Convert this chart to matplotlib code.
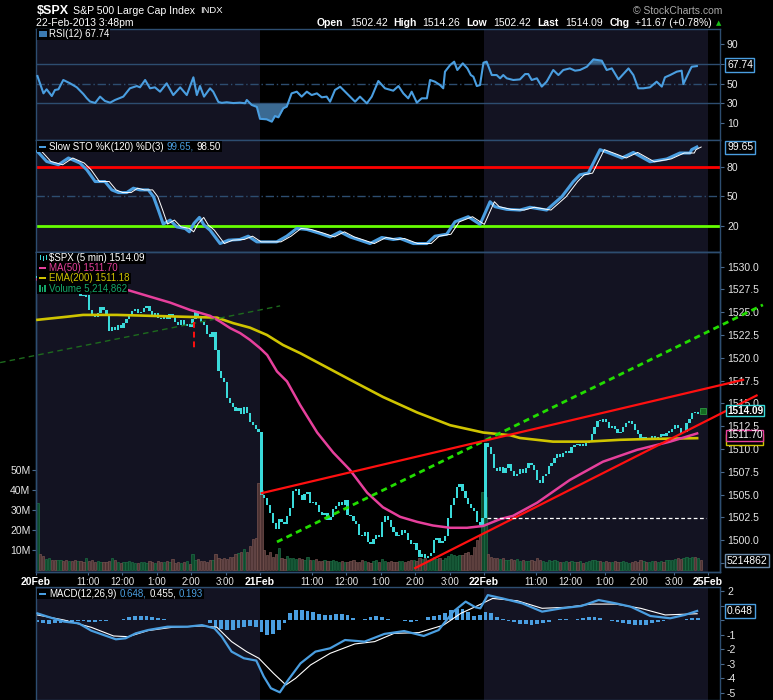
import numpy as np
import matplotlib
matplotlib.use("Agg")
import matplotlib.pyplot as plt
from matplotlib.patches import Rectangle

FONT = ["Liberation Sans", "DejaVu Sans"]
plt.rcParams["font.family"] = FONT

# ------------------------------------------------------------------ data
days = ["20Feb", "21Feb", "22Feb", "25Feb"]
bars_per_day = 78
hour_labels = ["11:00", "12:00", "1:00", "2:00", "3:00"]
hour_offsets = [18, 30, 42, 54, 66]          # bars after 9:30 open

close_20feb = [1528.8, 1528.2, 1527.8, 1528.1, 1528.4, 1528.0, 1527.8, 1528.3, 1528.6, 1528.4,
               1528.0, 1528.2, 1527.9, 1527.7, 1527.7, 1526.8, 1526.7, 1526.9, 1525.2, 1524.8,
               1524.5, 1524.9, 1525.6, 1525.2, 1524.6, 1522.9, 1523.4, 1523.0, 1523.6, 1523.3,
               1523.8, 1524.3, 1524.7, 1525.1, 1525.3, 1524.9, 1525.0, 1525.5, 1525.7, 1525.1,
               1524.6, 1524.9, 1524.4, 1524.2, 1524.6, 1524.3, 1524.8, 1524.6, 1523.9, 1523.6,
               1524.1, 1523.5, 1523.7, 1523.4, 1524.2, 1525.1, 1524.6, 1523.9, 1523.6, 1522.6,
               1522.3, 1522.8, 1520.8, 1518.6, 1517.8, 1517.3, 1515.6, 1515.0, 1514.6, 1514.2,
               1514.5, 1513.8, 1514.6, 1513.9, 1512.9, 1512.6, 1512.2, 1511.9]
close_21feb = [1505.0, 1504.6, 1503.8, 1503.0, 1501.9, 1501.2, 1502.3, 1502.0, 1501.8, 1502.6,
               1503.5, 1505.4, 1505.6, 1505.0, 1504.4, 1505.1, 1505.3, 1504.1, 1504.2, 1503.9,
               1503.1, 1502.8, 1503.0, 1502.2, 1502.5, 1503.4, 1503.7, 1504.2, 1503.9, 1504.4,
               1502.8, 1502.6, 1502.1, 1501.8, 1500.6, 1500.4, 1500.9, 1499.8, 1499.6, 1500.1,
               1500.6, 1500.3, 1502.0, 1502.6, 1502.2, 1501.4, 1500.9, 1500.4, 1500.6, 1501.1,
               1500.8, 1500.0, 1499.6, 1499.7, 1498.9, 1498.2, 1498.5, 1498.0, 1498.3, 1498.6,
               1500.0, 1500.2, 1499.7, 1499.9, 1500.4, 1502.4, 1503.8, 1504.6, 1505.8, 1506.1,
               1505.4, 1504.6, 1504.0, 1503.5, 1503.2, 1502.0, 1501.7, 1502.42]
close_22feb = [1510.6, 1510.2, 1509.4, 1507.9, 1507.6, 1508.0, 1507.4, 1507.9, 1508.3, 1507.6,
               1507.0, 1507.3, 1507.8, 1507.4, 1507.9, 1508.5, 1508.2, 1507.7, 1506.6, 1506.3,
               1507.0, 1507.2, 1508.1, 1508.5, 1509.0, 1509.4, 1509.1, 1509.5, 1509.8, 1509.6,
               1510.2, 1510.4, 1510.3, 1510.5, 1510.3, 1510.6, 1510.9, 1511.6, 1512.4, 1513.1,
               1513.0, 1513.3, 1512.9, 1512.3, 1512.5, 1512.2, 1511.7, 1511.9, 1512.4, 1512.8,
               1513.1, 1512.7, 1512.1, 1511.6, 1511.2, 1511.3, 1511.0, 1511.2, 1511.4, 1511.1,
               1511.3, 1511.6, 1511.4, 1511.8, 1511.9, 1512.2, 1512.6, 1512.3, 1511.7, 1511.9,
               1512.8, 1513.3, 1513.9, 1513.8, 1514.1, 1514.09]

vol_20feb = [33.3, 8.0, 7.0, 5.3, 5.8, 5.0, 5.1, 4.8, 5.0, 4.6,
             5.2, 4.5, 4.3, 4.8, 4.4, 4.6, 4.0, 5.8, 4.4, 5.2,
             4.0, 4.6, 3.8, 4.1, 3.9, 4.6, 6.2, 4.8, 4.2, 3.6,
             3.8, 4.0, 4.5, 4.2, 3.7, 3.6, 4.0, 3.9, 3.5, 4.3,
             3.8, 3.6, 4.6, 4.2, 3.8, 4.3, 3.9, 5.3, 3.7, 4.1,
             3.4, 3.9, 4.3, 3.2, 8.0, 4.8, 5.3, 4.4, 4.6, 4.1,
             4.8, 5.2, 7.8, 6.1, 5.4, 6.2, 5.5, 6.4, 6.7, 8.0,
             8.5, 9.0, 10.5, 9.2, 12.0, 15.3, 15.8, 43.3]
vol_21feb = [40.0, 10.0, 7.5, 9.0, 6.3, 8.0, 11.0, 6.0, 5.5, 6.8,
             5.8, 6.2, 5.5, 6.0, 5.4, 4.8, 6.6, 5.1, 4.9, 5.3,
             4.6, 4.4, 5.0, 4.7, 4.5, 5.2, 4.3, 3.9, 4.4, 4.2,
             4.0, 4.6, 4.8, 3.8, 4.1, 5.0, 4.5, 4.0, 3.7, 4.3,
             4.8, 4.2, 5.5, 4.6, 4.0, 4.4, 3.9, 4.1, 4.6, 4.3,
             4.0, 4.4, 5.2, 5.0, 4.6, 6.0, 5.4, 5.8, 4.9, 5.2,
             6.5, 5.5, 6.0, 5.0, 6.2, 7.0, 8.2, 7.5, 6.8, 7.7,
             7.5, 8.5, 9.2, 7.5, 11.7, 15.0, 17.5, 39.0]
vol_22feb = [36.7, 8.0, 6.7, 5.8, 6.2, 5.5, 6.0, 4.8, 5.2, 5.6,
             4.9, 5.4, 4.5, 5.0, 4.7, 4.4, 5.2, 4.6, 5.8, 5.0,
             4.6, 4.2, 4.8, 4.4, 5.0, 4.5, 3.9, 4.2, 4.6, 4.0,
             4.3, 3.8, 4.1, 4.4, 3.7, 4.0, 4.5, 4.8, 5.2, 4.6,
             4.3, 4.0, 4.4, 3.9, 4.2, 4.6, 3.8, 4.1, 4.4, 4.0,
             3.7, 4.2, 4.5, 4.0, 4.8, 4.4, 4.1, 3.9, 4.3, 4.6,
             4.2, 4.5, 4.0, 4.8, 5.2, 5.0, 5.6, 5.8, 5.4, 6.0,
             6.3, 5.8, 6.5, 6.7, 6.1, 5.2]

ma50_bar = [0, 15, 31.2, 39.2, 46.2, 53.1, 60.1, 63.6, 67.1, 70.6, 74.0, 77.5, 80.0, 83.4,
            86.9, 91.5, 97.4, 103.0, 108.8, 114.8, 120.3, 126.3, 132.2, 137.7, 143.7, 149.6,
            155.2, 161.1, 165.6, 174.0, 185.4, 196.9, 208.8, 220.3, 229.7]
ma50_val = [1528.6, 1528.2, 1527.45, 1526.7, 1526.05, 1525.25, 1524.6, 1523.97, 1523.25, 1522.7,
            1521.96, 1521.05, 1520.3, 1518.5, 1517.4, 1514.8, 1511.8, 1509.6, 1507.7, 1505.2,
            1503.6, 1502.55, 1502.0, 1501.6, 1501.35, 1501.35, 1501.55, 1502.3, 1502.66, 1504.1,
            1506.6, 1508.6, 1509.9, 1510.8, 1511.70]
ema200_bar = [0, 10.3, 15.9, 27.7, 39.2, 50.7, 62.5, 68.1, 74.0, 79.9, 85.5, 91.5, 108.8,
              120.3, 132.2, 143.7, 155.2, 164.6, 168.0, 179.5, 191.4, 202.9, 214.4, 229.7]
ema200_val = [1524.16, 1524.5, 1524.7, 1524.7, 1524.6, 1524.5, 1524.4, 1523.8, 1523.3, 1522.5,
              1521.4, 1520.5, 1517.6, 1515.7, 1514.0, 1512.6, 1511.8, 1511.5, 1511.2, 1510.8,
              1510.8, 1511.0, 1511.1, 1511.18]

rsi_bar = [0, 2.1, 3.2, 5.0, 6.1, 7.3, 9.0, 11.4, 13.7, 16.0,
           17.2, 18.3, 20.1, 21.8, 23.5, 25.3, 27.0, 29.9, 32.2, 34.6,
           35.7, 37.5, 39.2, 40.9, 42.7, 45.0, 47.3, 49.7, 52.0, 54.3,
           55.5, 56.6, 58.0, 60.1, 61.2, 63.0, 64.2, 65.9, 68.2, 70.5,
           72.3, 72.9, 74.6, 76.4, 77.5, 79.8, 81.6, 82.7, 83.9, 85.6,
           86.8, 88.5, 90.3, 92.0, 93.8, 95.5, 97.3, 99.0, 100.7, 101.9,
           103.6, 105.4, 107.7, 108.8, 110.6, 112.3, 114.7, 116.4, 118.7, 121.0,
           123.9, 125.7, 127.4, 129.1, 130.3, 132.1, 133.8, 135.6, 136.7, 138.4,
           140.2, 141.3, 141.9, 143.7, 145.1, 146.2, 148.1, 149.7, 150.9, 151.8,
           153.0, 154.1, 155.3, 156.4, 158.2, 159.9, 161.1, 162.2, 163.4, 165.7,
           168.0, 169.8, 170.9, 172.1, 173.9, 175.6, 177.3, 179.6, 181.4, 183.1,
           185.4, 187.2, 188.9, 191.3, 193.6, 196.5, 198.2, 200.0, 202.3, 204.0,
           205.8, 207.5, 209.2, 211.0, 213.3, 215.6, 217.4, 218.5, 220.3, 222.6,
           224.3, 224.9, 227.2, 227.8, 229.6]
rsi_val = [57.7, 40.2, 44.3, 37.5, 43.6, 44.3, 53.7, 50.3, 46.3, 39.5,
           35.2, 32.0, 30.5, 36.9, 32.5, 30.8, 33.5, 36.9, 45.3, 47.6,
           46.3, 53.7, 45.3, 46.3, 41.9, 50.3, 38.5, 46.3, 38.5, 56.4,
           38.5, 47.6, 36.9, 45.3, 41.9, 31.5, 30.6, 31.2, 30.4, 30.8,
           30.2, 33.5, 28.5, 26.5, 14.5, 14.0, 11.6, 17.3, 16.0, 25.1,
           26.8, 40.2, 41.9, 36.9, 41.9, 38.5, 40.2, 36.2, 36.9, 31.8,
           43.6, 46.9, 40.2, 36.9, 31.8, 36.9, 30.1, 36.9, 52.7, 45.3,
           42.9, 47.6, 40.2, 35.2, 41.9, 30.8, 35.2, 35.2, 53.7, 52.0,
           48.6, 45.3, 62.1, 68.8, 72.2, 63.8, 70.5, 65.4, 58.7, 57.0,
           47.6, 48.6, 71.2, 72.2, 58.7, 58.7, 55.4, 58.7, 55.4, 53.7,
           54.3, 59.7, 59.7, 53.7, 55.4, 47.0, 52.0, 63.8, 58.7, 63.8,
           65.4, 63.1, 63.8, 67.1, 74.5, 73.2, 63.8, 65.4, 54.3, 59.7,
           65.4, 58.7, 45.3, 45.3, 46.3, 52.0, 47.0, 56.4, 58.7, 62.1,
           63.1, 49.6, 63.8, 67.1, 67.74]

sto_bar = [0, 3.2, 7.3, 10.8, 14.8, 17.2, 20.1, 23.5, 25.9, 28.2,
           31.1, 33.4, 35.7, 38.6, 40.4, 42.1, 43.8, 46.2, 48.5, 51.4,
           52.9, 54.5, 56.4, 58.0, 60.1, 63.6, 66.5, 70.5, 73.4, 76.4,
           83.3, 86.8, 90.3, 93.8, 98.4, 101.9, 105.4, 108.8, 112.3, 115.8,
           119.9, 123.9, 126.3, 130.9, 135.6, 138.4, 142.5, 145.4, 150.0, 154.1,
           157.6, 159.3, 163.4, 168.0, 171.5, 177.3, 182.6, 186.6, 188.9, 191.8,
           195.9, 200.0, 203.5, 207.5, 213.3, 219.1, 223.7, 227.2, 227.8, 229.6]
sto_val = [95.2, 85.1, 81.8, 88.6, 83.5, 76.7, 64.9, 64.9, 56.5, 53.8,
           53.8, 58.2, 56.5, 56.5, 49.7, 36.2, 22.1, 26.1, 19.3, 17.7,
           14.3, 22.8, 28.8, 21.1, 16.0, 2.5, 5.9, 6.6, 9.9, 4.2,
           4.2, 9.9, 17.7, 16.7, 12.7, 9.2, 14.3, 9.2, 5.9, 2.5,
           8.6, 6.6, 7.6, 2.5, 2.5, 9.9, 11.9, 24.4, 29.5, 21.8,
           44.6, 39.6, 36.9, 36.2, 39.0, 36.2, 49.7, 64.9, 71.7, 73.4,
           97.0, 92.6, 88.6, 94.2, 84.8, 87.6, 93.6, 93.6, 97.0, 99.65]

macd_bar = [0, 4.2, 9.3, 14.4, 18.7, 23.0, 27.3, 30.7, 34.2, 38.5,
            45.3, 52.2, 57.3, 61.6, 64.2, 67.6, 71.9, 76.2, 78.8, 81.3,
            84.4, 87.3, 91.6, 96.8, 101.9, 107.1, 113.9, 120.8, 127.7, 134.5,
            139.7, 144.8, 149.1, 152.5, 154.2, 156.8, 162.0, 168.8, 175.7, 182.5,
            189.4, 195.4, 201.4, 206.6, 213.4, 220.3, 225.4, 229.7]
macd_val = [0.48, 0.21, -0.09, -0.21, -0.71, -1.01, -1.31, -1.24, -0.90, -0.67,
            -0.44, -0.44, -0.33, -0.55, -1.13, -2.16, -2.62, -2.78, -3.88, -4.69,
            -4.97, -4.12, -2.97, -2.16, -1.93, -1.36, -1.47, -0.94, -0.74, -1.08,
            -0.67, 0.60, 1.29, 0.90, 0.83, 1.74, 1.51, 1.17, 0.60, 0.83,
            0.99, 1.40, 1.17, 0.94, 0.30, 0.14, 0.37, 0.648]
signal_bar = [0, 9.3, 18.7, 26.5, 31.6, 38.5, 47.0, 57.3, 62.5, 67.6,
              72.8, 77.1, 82.2, 86.5, 89.9, 95.1, 101.9, 110.5, 117.4, 124.2,
              132.8, 141.4, 147.4, 152.5, 158.5, 167.1, 175.7, 184.3, 192.8, 201.4,
              210.0, 218.6, 229.7]
signal_val = [0.37, 0.02, -0.48, -1.08, -1.13, -0.71, -0.48, -0.39, -0.48, -1.47,
              -2.16, -2.62, -3.66, -4.46, -4.00, -3.08, -2.28, -1.63, -1.47, -0.90,
              -0.85, -0.33, 0.48, 0.94, 1.51, 1.35, 0.83, 0.90, 1.12, 1.12,
              0.83, 0.37, 0.455]
hist_step = 2
hist_val = [-0.15, -0.2, -0.22, -0.2, -0.18, -0.15,
            -0.1, -0.08, -0.05, -0.1, -0.12, -0.08, -0.05, 0.0, 0.05,
            0.12, 0.2, 0.28, 0.32, 0.3, 0.22, 0.15,
            0.08, 0.05, 0.02, 0.03, 0.05, 0.04, 0.02, 0.0,
            -0.2, -0.45, -0.6, -0.7, -0.65, -0.55, -0.45, -0.4, -0.45,
            -0.8, -1.0, -0.95, -0.7, -0.2,
            0.5, 0.7, 0.72, 0.65, 0.55,
            0.45, 0.4, 0.38, 0.42, 0.45, 0.35, 0.15,
            0.05, 0.1, 0.25, 0.32, 0.2, 0.08,
            0.05, 0.02, -0.05, -0.1, -0.05, 0.05,
            0.2, 0.28, 0.35, 0.5, 0.7, 0.8, 0.75, 0.55,
            0.3, 0.35, 0.6, 0.5, 0.25, 0.1,
            -0.05, -0.15, -0.22, -0.28, -0.3, -0.25, -0.2, -0.1,
            0.02, 0.06, 0.08, 0.05, 0.1, 0.15, 0.2, 0.2, 0.15,
            0.05, -0.05, -0.12, -0.2, -0.28, -0.32, -0.35, -0.3, -0.2,
            -0.1, -0.02, 0.02, 0.05, 0.04, 0.08, 0.15, 0.19]

# drawn annotations: (bar position, price) end points
trend_dark_green = ([-12.5, 85.0], [1519.47, 1525.69])
trend_green = ([83.9, 253.1], [1499.8, 1525.8])
trend_red_upper = ([78.6, 246.2], [1505.15, 1517.58])
trend_red_lower = ([132.0, 250.9], [1496.93, 1515.86])
prev_close_line = ([156.9, 233.3], 1502.42)
red_marker_line = (55.1, [1523.9, 1521.1])

quote = dict(Open=1502.42, High=1514.26, Low=1502.42, Last=1514.09)
chg, chg_pct = 11.67, 0.78
rsi_last, sto_k_last, sto_d_last = 67.74, 99.65, 98.50
ma50_last, ema200_last, vol_last = 1511.70, 1511.18, 5214862
macd_last, signal_last, hist_last = 0.648, 0.455, 0.193

price_ticks = [1497.5, 1500.0, 1502.5, 1505.0, 1507.5, 1510.0, 1512.5, 1515.0,
               1517.5, 1520.0, 1522.5, 1525.0, 1527.5, 1530.0]
price_hidden = [1497.5]            # labels covered by the value boxes
vol_ticks = [10, 20, 30, 40, 50]
rsi_ticks = [10, 30, 50, 70, 90]
rsi_hidden = [70]
sto_ticks = [20, 50, 80]
macd_ticks = [-5, -4, -3, -2, -1, 0, 1, 2]
macd_hidden = [0, 1]

# ------------------------------------------------------------------ style
W, H = 773, 700
PL, PR = 36, 720
BAR_PX = 2.872
XMAX = (PR - PL) / BAR_PX
CYAN = "#3adada"; PINK = "#e6409c"; YELLOW = "#cfc400"; BLUE = "#4a9ee0"
SPINE = "#2d4d70"; SHADE = "#131322"; TICKC = "#4a6a8c"; LABELC = "#e6e6e6"

fig = plt.figure(figsize=(W / 100, H / 100), dpi=100, facecolor="black")
renderer = fig.canvas.get_renderer()

shade_spans = [(0, bars_per_day), (2 * bars_per_day, 3 * bars_per_day)]


def add_panel(top, bot):
    ax = fig.add_axes([PL / W, 1 - bot / H, (PR - PL) / W, (bot - top) / H])
    ax.set_facecolor("black")
    ax.set_xlim(0, XMAX)
    for s in ax.spines.values():
        s.set_color(SPINE)
        s.set_linewidth(1.0)
    ax.tick_params(axis="x", which="both", bottom=False, top=False, labelbottom=False)
    ax.yaxis.tick_right()
    ax.tick_params(axis="y", colors=TICKC, labelcolor=LABELC, labelsize=7.5,
                   length=3, width=0.8, pad=2)
    for a, b in shade_spans:
        ax.axvspan(a, b, color=SHADE, zorder=0, lw=0)
    return ax


def set_ticks(ax, ticks, hidden, fmt):
    ax.set_yticks(ticks)
    ax.set_yticklabels(["" if t in hidden else fmt.format(t) for t in ticks])


def bx(v):
    return np.asarray(v, dtype=float) + 0.5


# ---------------- RSI
ax_rsi = add_panel(28.7, 140)
ax_rsi.set_ylim(-6.9, 105.5)
set_ticks(ax_rsi, rsi_ticks, rsi_hidden, "{}")
for lv in (70, 30):
    ax_rsi.axhline(lv, color=SPINE, lw=1.0, zorder=1)
ax_rsi.axhline(50, color=SPINE, lw=1.0, ls=(0, (6, 2, 1, 2)), zorder=1)
rx, rv = bx(rsi_bar), np.array(rsi_val)
ax_rsi.fill_between(rx, rv, 70, where=rv >= 70, interpolate=True, color="#3b6a92", lw=0, zorder=2)
ax_rsi.fill_between(rx, rv, 30, where=rv <= 30, interpolate=True, color="#3b6a92", lw=0, zorder=2)
ax_rsi.plot(rx, rv, color=BLUE, lw=1.5, zorder=3)

# ---------------- Slow STO
ax_sto = add_panel(140, 252)
ax_sto.set_ylim(-6.0, 106.7)
ax_sto.set_yticks(sto_ticks)
ax_sto.axhline(80, color="#ff0000", lw=2.0, zorder=1)
ax_sto.axhline(20, color="#66ff00", lw=2.0, zorder=1)
ax_sto.axhline(50, color=SPINE, lw=1.0, ls=(0, (6, 2, 1, 2)), zorder=1)
sx = bx(sto_bar)
ax_sto.plot(sx, sto_val, color=BLUE, lw=2.2, zorder=3)
ax_sto.plot(sx + 1.5, sto_val, color="white", lw=0.7, zorder=4)

# ---------------- price + volume
ax_vol = add_panel(252, 572)
ax_px = ax_vol.twinx()
ax_px.set_xlim(0, XMAX)
ax_px.patch.set_visible(False)
for s in ax_px.spines.values():
    s.set_color(SPINE)
    s.set_linewidth(1.0)

closes = np.array(close_20feb + close_21feb + close_22feb)
vols = np.array(vol_20feb + vol_21feb + vol_22feb)
n = len(closes)
xb = np.arange(n) + 0.5
opens = np.concatenate([[closes[0]], closes[:-1]])
up = closes >= opens

ax_vol.set_ylim(-1, 159)
ax_vol.bar(xb[up], vols[up], width=0.8, color="#0f4a2c", edgecolor="#1d6e45", lw=0.5, zorder=2)
ax_vol.bar(xb[~up], vols[~up], width=0.8, color="#4e3434", edgecolor="#76524f", lw=0.5, zorder=2)
ax_vol.yaxis.tick_left()
ax_vol.set_yticks(vol_ticks)
ax_vol.set_yticklabels([f"{v}M" for v in vol_ticks])
ax_vol.tick_params(axis="y", left=True, right=False, labelleft=True, labelright=False,
                   colors=TICKC, labelcolor=LABELC, labelsize=7.5, length=3, pad=1)

# x axis labels
tick_pos, tick_lab = [], []
for d in range(3):
    tick_pos.append(d * bars_per_day); tick_lab.append(days[d])
    for off, lab in zip(hour_offsets, hour_labels):
        tick_pos.append(d * bars_per_day + off); tick_lab.append(lab)
tick_pos.append(3 * bars_per_day); tick_lab.append(days[3])
ax_vol.set_xticks(tick_pos)
ax_vol.set_xticklabels(tick_lab)
ax_vol.tick_params(axis="x", bottom=True, labelbottom=True, length=2, color=TICKC,
                   labelcolor=LABELC, labelsize=7, pad=1.5)
for lab in ax_vol.get_xticklabels():
    if "Feb" in lab.get_text():
        lab.set_fontweight("bold")
        lab.set_fontsize(7.5)
        lab.set_color("white")

ax_px.set_ylim(1496.5, 1531.6)
set_ticks(ax_px, price_ticks, price_hidden, "{:.1f}")
ax_px.tick_params(axis="y", colors=TICKC, labelcolor=LABELC, labelsize=7.5, length=3, width=0.8, pad=2)

hgt = closes - opens
hgt = np.where(np.abs(hgt) < 0.12, 0.12, hgt)
ax_px.bar(xb, hgt, bottom=opens, width=0.8, color=CYAN, lw=0, zorder=3)
ax_px.plot(bx(ema200_bar), ema200_val, color=YELLOW, lw=1.9, zorder=4)
ax_px.plot(bx(ma50_bar), ma50_val, color=PINK, lw=1.8, zorder=4)
ax_px.plot(xb[-1] + 0.6, closes[-1] + 0.1, marker="s", ms=4.5, mfc="#156a22", mec="#2c9a40", mew=0.6, zorder=6)

ax_px.plot(*trend_dark_green, color="#1d6a1d", lw=1.0, ls=(0, (4, 3)), zorder=5, clip_on=False)
ax_px.plot(*trend_green, color="#22dd00", lw=2.0, ls=(0, (2.2, 1.6)), zorder=5, clip_on=False)
ax_px.plot(*trend_red_upper, color="#ff1010", lw=1.6, zorder=5, clip_on=False)
ax_px.plot(*trend_red_lower, color="#ff1010", lw=1.6, zorder=5, clip_on=False)
ax_px.plot(prev_close_line[0], [prev_close_line[1]] * 2, color="white", lw=0.9, ls=(0, (3, 2)), zorder=5)
ax_px.plot([red_marker_line[0]] * 2, red_marker_line[1], color="#ff1010", lw=1.4, ls=(0, (3, 2)), zorder=5)

# ---------------- MACD
ax_macd = add_panel(587, 700)
ax_macd.set_ylim(-5.5, 2.3)
set_ticks(ax_macd, macd_ticks, macd_hidden, "{}")
hx = np.arange(len(hist_val)) * hist_step + 0.5
ax_macd.bar(hx, hist_val, width=1.3, color=BLUE, lw=0, zorder=2)
ax_macd.plot(bx(signal_bar), signal_val, color="white", lw=0.8, zorder=3)
ax_macd.plot(bx(macd_bar), macd_val, color=BLUE, lw=1.6, zorder=4)


# ------------------------------------------------------------------ texts
def fx(x):
    return x / W


def fy(y):
    return 1 - y / H


def ftext(x, y, s, **kw):
    kw.setdefault("va", "center")
    kw.setdefault("ha", "left")
    kw.setdefault("color", "white")
    return fig.text(fx(x), fy(y), s, **kw)


def frect(x0, y0, w, h, color, z=3):
    fig.patches.append(Rectangle((fx(x0), fy(y0 + h)), w / W, h / H, transform=fig.transFigure,
                                 facecolor=color, edgecolor="none", zorder=z))


def seq_text(x, y, parts, **kw):
    for s, size, weight, c, gap in parts:
        t = ftext(x, y, s, fontsize=size, fontweight=weight, color=c, **kw)
        x += t.get_window_extent(renderer).width + gap
    return x


def legend_line(y, parts, size=7):
    x = seq_text(49, y, [(s, size, "normal", c, g) for s, c, g in parts], zorder=5)
    frect(37, y - 5.2, x + 1 - 37, 10.4, "black", z=4)


# header
seq_text(37, 10.5, [("$SPX", 9, "bold", "white", 4),
                    ("S&P 500 Large Cap Index", 7.6, "normal", "white", 5),
                    ("INDX", 6.8, "normal", "white", 0)])
ftext(36, 23, "22-Feb-2013 3:48pm", fontsize=7.5)
ftext(633, 10.5, "\u00a9 StockCharts.com", fontsize=7.5, color="#a8a8a8")
hdr = [("Open", 317, True), (f"{quote['Open']:.2f}", 350, False),
       ("High", 393, True), (f"{quote['High']:.2f}", 422, False),
       ("Low", 466, True), (f"{quote['Low']:.2f}", 493, False),
       ("Last", 537, True), (f"{quote['Last']:.2f}", 565, False),
       ("Chg", 610, True), (f"+{chg:.2f} (+{chg_pct:.2f}%)", 635, False)]
for s, x, b in hdr:
    ftext(x, 23, s, fontsize=7.5, fontweight="bold" if b else "normal")
ftext(716, 23, "\u25b2", fontsize=5, color="#18c018", family=["DejaVu Sans"])

# panel legends
frect(39, 31, 8, 6, "#3b7ab0", z=5)
legend_line(34.3, [(f"RSI(12) {rsi_last:.2f}", "white", 0)])
frect(39, 145.8, 7, 2, BLUE, z=5)
legend_line(146.7, [("Slow STO %K(120) %D(3)", "white", 3),
                    (f"{sto_k_last:.2f},", BLUE, 3),
                    (f"{sto_d_last:.2f}", "white", 0)])
legend_line(258.3, [(f"$SPX (5 min) {closes[-1]:.2f}", "white", 0)])
legend_line(268.3, [(f"MA(50) {ma50_last:.2f}", PINK, 0)])
legend_line(278.3, [(f"EMA(200) {ema200_last:.2f}", YELLOW, 0)])
legend_line(288.3, [(f"Volume {vol_last:,}", "#14a86a", 0)])
for k, xx in enumerate([39.5, 42.5, 45.5]):
    frect(xx, 255 + k % 2, 1.8, 5, CYAN, z=6)
frect(39, 267.4, 7, 2, PINK, z=6)
frect(39, 277.4, 7, 2, YELLOW, z=6)
for k, xx in enumerate([39, 41.5, 44]):
    frect(xx, 285 + k % 2 * 2, 1.8, 7 - k % 2 * 2, "#14a86a", z=6)
frect(39, 593, 7, 2, BLUE, z=6)
legend_line(594, [(f"MACD(12,26,9)", "white", 3), (f"{macd_last:.3f},", BLUE, 3),
                  (f"{signal_last:.3f},", "white", 3), (f"{hist_last:.3f}", BLUE, 0)])


# right side value boxes
def vbox(y, s, edge, bold=False, pad=0.15, size=7.5):
    ftext(727, y, s, fontsize=size, fontweight="bold" if bold else "normal", zorder=8,
          bbox=dict(boxstyle=f"square,pad={pad}", facecolor="black", edgecolor=edge, lw=1.0))


vbox(65, f"{rsi_last:.2f}", BLUE)
vbox(147.5, f"{sto_k_last:.2f}", BLUE)
vbox(439.5, f"{ema200_last:.2f}", YELLOW, pad=0.08, size=7.2)
vbox(435.5, f"{ma50_last:.2f}", PINK, pad=0.08, size=7.2)
vbox(410.5, f"{closes[-1]:.2f}", CYAN, bold=True, pad=0.08, size=7.2)
vbox(560.5, f"{vol_last}", "#6a8aaa")
vbox(611, f"{macd_last:.3f}", BLUE)

fig.savefig("out.png", dpi=100, facecolor="black")
